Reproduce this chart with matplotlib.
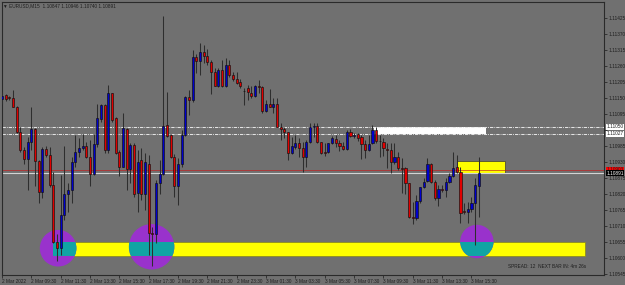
import matplotlib
matplotlib.use("Agg")
import matplotlib.pyplot as plt
from matplotlib.patches import Rectangle, Ellipse

# ---------------- data (EURUSD M15, 2 Mar 07:30 -> 3 Mar 16:00) ----------------
opens = [1.11144, 1.11158, 1.11151, 1.11149, 1.11119, 1.11031, 1.10970, 1.10938, 1.10999, 1.11042,
         1.10932, 1.10825, 1.10973, 1.10955, 1.10850, 1.10653, 1.10633, 1.10747, 1.10819, 1.10832,
         1.10930, 1.10962, 1.10977, 1.10984, 1.10945, 1.10888, 1.10990, 1.11076, 1.11125, 1.10970,
         1.11165, 1.11082, 1.10962, 1.10913, 1.11042, 1.10904, 1.10987, 1.10824, 1.10936, 1.10818,
         1.10924, 1.10687, 1.10681, 1.10858, 1.10888, 1.11056, 1.11022, 1.10947, 1.10848, 1.10924,
         1.11022, 1.11151, 1.11142, 1.11291, 1.11277, 1.11306, 1.11293, 1.11274, 1.11239, 1.11192,
         1.11247, 1.11191, 1.11262, 1.11227, 1.11216, 1.11204, 1.11174, 1.11184, 1.11168, 1.11157,
         1.11190, 1.11188, 1.11105, 1.11130, 1.11119, 1.11130, 1.11050, 1.11041, 1.11031, 1.10959,
         1.10982, 1.10993, 1.10978, 1.10945, 1.10997, 1.11050, 1.11053, 1.10997, 1.10963, 1.10964,
         1.10993, 1.11008, 1.10995, 1.10985, 1.10974, 1.11033, 1.11018, 1.11024, 1.11014, 1.10990,
         1.10970, 1.10993, 1.11039, 1.11002, 1.10999, 1.10974, 1.10970, 1.10928, 1.10947, 1.10908,
         1.10907, 1.10856, 1.10739, 1.10736, 1.10795, 1.10844, 1.10864, 1.10924, 1.10861, 1.10804,
         1.10836, 1.10833, 1.10861, 1.10882, 1.10913, 1.10896, 1.10760, 1.10756, 1.10768, 1.10789,
         1.10847]
highs = [1.11171, 1.11163, 1.11156, 1.11176, 1.11121, 1.11048, 1.10982, 1.11016, 1.11119, 1.11045,
         1.10936, 1.10982, 1.10984, 1.10982, 1.10896, 1.10682, 1.10884, 1.10984, 1.10856, 1.10947,
         1.11022, 1.11010, 1.11027, 1.10999, 1.11005, 1.11027, 1.11127, 1.11127, 1.11127, 1.11193,
         1.11167, 1.11085, 1.10970, 1.11096, 1.11045, 1.10993, 1.10993, 1.10970, 1.10976, 1.10959,
         1.10953, 1.10707, 1.10867, 1.10936, 1.11430, 1.11171, 1.11025, 1.10957, 1.10942, 1.11039,
         1.11156, 1.11176, 1.11314, 1.11302, 1.11337, 1.11331, 1.11319, 1.11279, 1.11251, 1.11251,
         1.11279, 1.11285, 1.11279, 1.11239, 1.11239, 1.11216, 1.11185, 1.11193, 1.11190, 1.11193,
         1.11211, 1.11190, 1.11142, 1.11179, 1.11148, 1.11148, 1.11064, 1.11048, 1.11033, 1.11016,
         1.11022, 1.11013, 1.10999, 1.11005, 1.11062, 1.11062, 1.11062, 1.10999, 1.10993, 1.10995,
         1.11018, 1.11022, 1.11005, 1.10999, 1.11039, 1.11041, 1.11030, 1.11030, 1.11022, 1.11005,
         1.11022, 1.11056, 1.11048, 1.11022, 1.11010, 1.10993, 1.10993, 1.10993, 1.10964, 1.10942,
         1.10913, 1.10858, 1.10793, 1.10816, 1.10844, 1.10873, 1.10942, 1.10927, 1.10867, 1.10850,
         1.10850, 1.10873, 1.10890, 1.10964, 1.10953, 1.10913, 1.10787, 1.10793, 1.10810, 1.10873,
         1.10946]
lows = [1.11130, 1.11140, 1.11142, 1.11117, 1.11030, 1.10965, 1.10922, 1.10833, 1.10970, 1.10847,
        1.10789, 1.10804, 1.10947, 1.10844, 1.10650, 1.10590, 1.10610, 1.10730, 1.10758, 1.10787,
        1.10913, 1.10947, 1.10970, 1.10942, 1.10847, 1.10884, 1.10982, 1.11068, 1.10961, 1.10959,
        1.11068, 1.10957, 1.10882, 1.10911, 1.10833, 1.10858, 1.10808, 1.10758, 1.10799, 1.10764,
        1.10610, 1.10572, 1.10650, 1.10821, 1.10884, 1.11016, 1.10942, 1.10810, 1.10781, 1.10913,
        1.11018, 1.11090, 1.11136, 1.11234, 1.11228, 1.11268, 1.11262, 1.11163, 1.11190, 1.11188,
        1.11188, 1.11188, 1.11222, 1.11208, 1.11197, 1.11185, 1.11125, 1.11142, 1.11148, 1.11151,
        1.11165, 1.11098, 1.11102, 1.11117, 1.11096, 1.11048, 1.11005, 1.11010, 1.10936, 1.10957,
        1.10973, 1.10947, 1.10896, 1.10913, 1.10993, 1.11014, 1.10993, 1.10957, 1.10951, 1.10959,
        1.10991, 1.10982, 1.10968, 1.10970, 1.10970, 1.11014, 1.11010, 1.11002, 1.10938, 1.10942,
        1.10968, 1.10991, 1.10995, 1.10947, 1.10950, 1.10907, 1.10890, 1.10924, 1.10901, 1.10824,
        1.10821, 1.10738, 1.10716, 1.10730, 1.10789, 1.10839, 1.10861, 1.10858, 1.10799, 1.10778,
        1.10827, 1.10810, 1.10856, 1.10879, 1.10890, 1.10721, 1.10750, 1.10718, 1.10758, 1.10644,
        1.10740]
closes = [1.11157, 1.11147, 1.11149, 1.11119, 1.11031, 1.10970, 1.10938, 1.10999, 1.11042, 1.10934,
          1.10825, 1.10973, 1.10955, 1.10850, 1.10653, 1.10633, 1.10747, 1.10819, 1.10832, 1.10930,
          1.10962, 1.10977, 1.10984, 1.10945, 1.10888, 1.10990, 1.11081, 1.11125, 1.10970, 1.11165,
          1.11073, 1.10959, 1.10913, 1.11045, 1.10904, 1.10987, 1.10821, 1.10930, 1.10818, 1.10928,
          1.10687, 1.10681, 1.10858, 1.10888, 1.11053, 1.11018, 1.10947, 1.10848, 1.10924, 1.11022,
          1.11151, 1.11142, 1.11291, 1.11277, 1.11306, 1.11293, 1.11274, 1.11237, 1.11192, 1.11247,
          1.11191, 1.11262, 1.11227, 1.11213, 1.11201, 1.11190, 1.11172, 1.11171, 1.11157, 1.11190,
          1.11188, 1.11104, 1.11130, 1.11119, 1.11128, 1.11050, 1.11041, 1.11031, 1.10959, 1.10984,
          1.10995, 1.10978, 1.10945, 1.10997, 1.11050, 1.11053, 1.10997, 1.10961, 1.10961, 1.10993,
          1.11010, 1.10993, 1.10984, 1.10974, 1.11033, 1.11018, 1.11021, 1.11010, 1.10990, 1.10970,
          1.10991, 1.11039, 1.11001, 1.11000, 1.10976, 1.10971, 1.10928, 1.10947, 1.10907, 1.10906,
          1.10856, 1.10739, 1.10737, 1.10795, 1.10842, 1.10861, 1.10924, 1.10861, 1.10804, 1.10835,
          1.10834, 1.10861, 1.10882, 1.10910, 1.10896, 1.10755, 1.10756, 1.10768, 1.10787, 1.10850,
          1.10891]

x_labels = ["2 Mar 2022", "2 Mar 09:30", "2 Mar 11:30", "2 Mar 13:30", "2 Mar 15:30",
            "2 Mar 17:30", "2 Mar 19:30", "2 Mar 21:30", "2 Mar 23:30", "3 Mar 01:30",
            "3 Mar 03:30", "3 Mar 05:30", "3 Mar 07:30", "3 Mar 09:30", "3 Mar 11:30",
            "3 Mar 13:30", "3 Mar 15:30"]
y_ticks = [1.10545, 1.10600, 1.10655, 1.10710, 1.10765, 1.10820, 1.10875, 1.10930, 1.10985,
           1.11040, 1.11095, 1.11150, 1.11205, 1.11260, 1.11315, 1.11370, 1.11425]

hline_levels = [1.11050, 1.11027]
bid_price = 1.10891
ask_price = 1.10903
spread_pts = 12

# chart objects (bar index / price)
white_rect = [101.4, 132.1, 1.11027, 1.11050]
small_yellow_rect = [124.2, 137.1, 1.10892, 1.10932]
big_yellow_rect = [13.8, 159.1, 1.10607, 1.10653]
circle_x = [15.3, 40.8, 129.5]
circle_p = [1.10633, 1.10638, 1.10656]
circle_r_px = [18.3, 22.7, 16.7]

# ---------------- styling ----------------
BG = "#707070"
FG = "#1e1e1e"
BULL = "#0000cc"
BEAR = "#e00000"
PURPLE = "#9932cc"
TEAL = "#10a4a4"

plt.rcParams["font.family"] = ["Liberation Sans", "DejaVu Sans"]
FS = 3.4

W, H = 625, 285
fig = plt.figure(figsize=(W / 100, H / 100), dpi=100)
fig.patch.set_facecolor(BG)
L, R, T, B = 1.7, 604.0, 1.7, 275.0
ax = fig.add_axes([L / W, (H - B) / H, (R - L) / W, (B - T) / H])
ax.set_facecolor(BG)

n = len(opens)
x = list(range(n))
px_per_bar = 3.667
ax.set_xlim((L - 2.0) / px_per_bar, (R - 2.0) / px_per_bar)
ax.set_ylim(1.10541, 1.11480)
price_per_px = (1.11480 - 1.10541) / (B - T)

# objects behind candles
r = white_rect
ax.add_patch(Rectangle((r[0], r[2]), r[1] - r[0], r[3] - r[2], facecolor="white", edgecolor="none", zorder=1))
r = small_yellow_rect
ax.add_patch(Rectangle((r[0], r[2]), r[1] - r[0], r[3] - r[2], facecolor="#ffff00", edgecolor="#505030", lw=0.6, zorder=1))
r = big_yellow_rect
big = Rectangle((r[0], r[2]), r[1] - r[0], r[3] - r[2], facecolor="#ffff00", edgecolor="#8c8c20", lw=0.6, zorder=1)
ax.add_patch(big)
for cx, cp, rp in zip(circle_x, circle_p, circle_r_px):
    w = 2 * rp / px_per_bar
    h = 2 * rp * price_per_px
    ax.add_patch(Ellipse((cx, cp), w, h, facecolor=PURPLE, edgecolor="none", zorder=1.5))
    t = Ellipse((cx, cp), w, h, facecolor=TEAL, edgecolor="none", zorder=1.6)
    ax.add_patch(t)
    t.set_clip_path(big)

for lv in hline_levels:
    ax.axhline(lv, color="#e4e4e4", lw=0.75, dashes=(3.2, 1.0, 0.8, 1.0), zorder=2)
ax.axhline(ask_price, color="#c81c1c", lw=0.45, zorder=2)
ax.axhline(bid_price, color="#d4d4d4", lw=0.8, zorder=2)

# candles
bw = 0.62
for i in x:
    o, h_, l_, c = opens[i], highs[i], lows[i], closes[i]
    ax.vlines(i, l_, h_, color="#2e2e2e", lw=0.75, zorder=3)
    lo = min(o, c)
    ht = max(abs(c - o), 0.000012)
    col = BULL if c >= o else BEAR
    ax.add_patch(Rectangle((i - bw / 2, lo), bw, ht, facecolor=col, edgecolor="#111111", lw=0.45, zorder=4))

# axes / ticks
for s in ax.spines.values():
    s.set_color("#2a2a2a")
    s.set_linewidth(0.8)
ax.yaxis.tick_right()
ax.set_yticks(y_ticks)
# the 1.11040 label is hidden under the object price boxes
ax.set_yticklabels(["" if abs(v - 1.11040) < 1e-7 else f"{v:.5f}" for v in y_ticks], fontsize=FS, color=FG)
ax.set_xticks([8 * k for k in range(len(x_labels))])
ax.set_xticklabels(x_labels, fontsize=FS, color=FG, ha="left")
ax.tick_params(axis="both", colors="#2a2a2a", length=2.0, width=0.6, pad=1.0, labelcolor=FG)

# right-axis price boxes
def price_box(p, text, fc, tc):
    ax.annotate(text, xy=(1.0, p), xycoords=("axes fraction", "data"), xytext=(1.6, 0),
                textcoords="offset points", va="center", ha="left", fontsize=FS, color=tc,
                bbox=dict(boxstyle="square,pad=0.1", fc=fc, ec="none"), zorder=10,
                annotation_clip=False)

for lv in hline_levels:
    price_box(lv, f"{lv:.5f}", "white", FG)
price_box(ask_price, f"{ask_price:.5f}", "#ff0000", FG)
price_box(bid_price, f"{bid_price:.5f}", "black", "white")

# texts
fig.text(3 / W, 1 - 5.5 / H,
         f"\u25bc EURUSD,M15  {opens[-1]:.5f} {highs[-1]:.5f} {lows[-1]:.5f} {closes[-1]:.5f}",
         fontsize=FS, color=FG, va="center", ha="left")
fig.text(508 / W, 1 - 266.5 / H, f"SPREAD: {spread_pts}  NEXT BAR IN: 4m 26s",
         fontsize=FS, color=FG, va="center", ha="left")

fig.savefig("out.png", dpi=100, facecolor=BG)
